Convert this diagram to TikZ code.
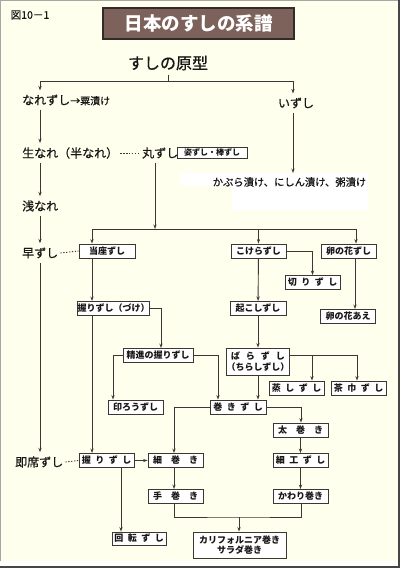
\documentclass[tikz,border=0pt]{standalone}
\usepackage{fontspec}
\setmainfont{Noto Sans CJK JP}
\newfontfamily\jpmed{Noto Sans CJK JP}[FakeBold=0.6]
\usetikzlibrary{arrows.meta}
\definecolor{cream}{RGB}{255,255,238}
\definecolor{lc}{RGB}{62,54,52}
\definecolor{txt}{RGB}{25,22,22}
\definecolor{titlefill}{RGB}{125,98,92}
\definecolor{frame}{RGB}{70,70,70}
\newcommand{\lsa}{\hspace{4.5pt}}
\newcommand{\lsb}{\hspace{9pt}}
\newcommand{\lsc}{\hspace{6pt}}
\tikzset{
  ln/.style={draw=lc, line width=0.9pt},
  arr/.style={ln, -{Stealth[length=4.5pt,width=3.2pt]}},
  dotl/.style={draw=lc, line width=0.9pt, dash pattern=on 1.3pt off 1.6pt},
  box/.style={draw=lc, line width=0.9pt, fill=white, inner sep=0pt,
    minimum width=55pt, minimum height=14pt, text=txt,
    font=\fontsize{9}{10.5}\selectfont\bfseries},
  lab/.style={inner xsep=2pt, inner ysep=4pt, text=txt,
    font=\jpmed\fontsize{12}{14}\selectfont},
}
\begin{document}
\begin{tikzpicture}[x=1pt,y=-1pt]
% background and frame
\useasboundingbox (0,0) rectangle (400,568);
\fill[white] (0,0) rectangle (400,568);
\fill[cream] (0,0) rectangle (397.5,561);
\draw[gray!70, line width=1pt] (0.5,561) -- (0.5,0.5) -- (397.5,0.5);
\fill[frame] (397.5,0) rectangle (400,568);
\fill[frame] (0,565.5) rectangle (400,568);
% white patch
\fill[white] (180,173) -- (368,173) -- (368,210) -- (232,210) -- (232,185) -- (180,185) -- cycle;

% labels
\node[text=txt, inner sep=0pt, font=\jpmed\fontsize{10.5}{12}\selectfont] (fig) at (30,15) {図10－1};
\node[draw=lc!80!black, line width=1.3pt, fill=titlefill, minimum width=191pt,
  minimum height=31pt, inner sep=0pt, text=white,
  font=\fontsize{18.5}{20}\selectfont\bfseries] (title) at (198.5,23.5) {日本のすしの系譜};
\node[lab, font=\jpmed\fontsize{16}{18}\selectfont] (gen) at (168,63) {すしの原型};
\coordinate (split) at (168,81);

\node[lab, anchor=west] (nare) at (20,100) {なれずし{\fontsize{10}{12}\selectfont →粟漬け}};
\node[lab] (izu) at (296,103) {いずし};
\node[lab, anchor=west] (nama) at (20,153) {生なれ（半なれ）};
\node[lab, anchor=west] (maru) at (140,153) {丸ずし};
\node[box, minimum width=70pt, minimum height=11pt, font=\fontsize{8}{9}\selectfont\bfseries] (sugata) at (212,152.5) {姿ずし・棒ずし};
\node[lab, anchor=west] (asa) at (20,206) {浅なれ};
\node[lab, anchor=west] (haya) at (20,253) {早ずし};
\node[lab, anchor=west] (soku) at (13,462) {即席ずし};
\node[lab, font=\jpmed\fontsize{10.3}{12}\selectfont] (kabura) at (289.5,182) {かぶら漬け、にしん漬け、粥漬け};

% boxes
\node[box, minimum width=56pt] (touza) at (107,251) {当座ずし};
\node[box] (kokera) at (258.5,251) {こけらずし};
\node[box] (unohana) at (348.5,251) {卵の花ずし};
\node[box] (kiri) at (312.5,282.5) {切\lsa り\lsa ず\lsa し};
\node[box] (unoae) at (348,316.5) {卵の花あえ};
\node[box, minimum width=56pt] (okoshi) at (258,308.5) {起こしずし};
\node[box, minimum width=56pt, minimum height=27pt, align=center] (bara) at (258,361.5) {ば\lsc ら\lsc ず\lsc し\\（ちらしずし）};
\node[box] (mushi) at (296.5,388) {蒸\lsa し\lsa ず\lsa し};
\node[box] (chakin) at (358.5,388) {茶\lsa 巾\lsa ず\lsa し};
\node[box, minimum width=56pt] (maki) at (238,407) {巻\lsa き\lsa ず\lsa し};
\node[box, minimum width=71pt] (nzuke) at (113.5,308.5) {握りずし（づけ）};
\node[box, minimum width=70pt] (shojin) at (158,355.5) {精進の握りずし};
\node[box] (inro) at (135.5,407) {印ろうずし};
\node[box] (futo) at (300.5,430) {太\lsb 巻\lsb き};
\node[box] (saiku) at (300.5,460.5) {細\lsa 工\lsa ず\lsa し};
\node[box] (kawari) at (300.5,496.5) {かわり巻き};
\node[box] (nigiri) at (106.5,460.5) {握\lsa り\lsa ず\lsa し};
\node[box] (hoso) at (175.5,460.5) {細\lsb 巻\lsb き};
\node[box] (temaki) at (175.5,496.5) {手\lsb 巻\lsb き};
\node[box, minimum width=54pt, minimum height=13pt] (kaiten) at (139,538.5) {回\lsa 転\lsa ず\lsa し};
\node[box, minimum width=93pt, minimum height=26pt, align=center] (calif) at (239.5,545) {カリフォルニア巻き\\サラダ巻き};

% helper coordinates
\coordinate (sp) at (40,0);
\coordinate (x92) at (92,0);
\coordinate (x113) at (113,0);
\coordinate (x121) at (121,0);
\coordinate (x155) at (155,0);
\coordinate (x161) at (161,0);
\coordinate (x174) at (174,0);
\coordinate (x218) at (218,0);
\coordinate (x293) at (293,0);
\coordinate (x301) at (301,0);
\coordinate (x312) at (312,0);
\coordinate (x355) at (355,0);
\coordinate (x357) at (357,0);
\coordinate (x356) at (356,0);
\coordinate (by) at (0,355);
\coordinate (j1) at (155,229);
\coordinate (jb) at (239,517);

% connectors
\draw[ln] (gen) -- (split);
\draw[arr] (split) -| (nare.north -| sp);
\draw[arr] (split) -| (izu.north -| x293);
\draw[arr] (nare.south -| sp) -- (nama.north -| sp);
\draw[arr] (nama.south -| sp) -- (asa.north -| sp);
\draw[arr] (asa.south -| sp) -- (haya.north -| sp);
\draw[arr] (haya.south -| sp) -- (soku.north -| sp);
\draw[arr] (izu.south -| x293) -- (kabura.north -| x293);
\draw[dotl] (nama.east) -- (maru.west);
\draw[dotl] (haya.east) -- (touza.west);
\draw[dotl] (soku.east) -- (nigiri.west);

\draw[arr] (maru.south -| x155) -- (j1);
\draw[arr] (j1) -| (touza.north -| x92);
\draw[arr] (j1) -| (unohana.north -| x356);
\draw[arr] (kokera.north |- j1) -- (kokera.north);
\draw[arr] (kokera.east) -| (kiri.north);
\draw[arr] (unohana.south -| x355) -- (unoae.north -| x355);
\draw[arr] (kokera) -- (okoshi);
\draw[arr] (okoshi) -- (bara);
\draw[arr] (bara.east |- by) -| (mushi.north -| x312);
\draw[arr] (bara.east |- by) -| (chakin.north -| x357);
\draw[arr] (bara.south) -- (bara.south |- maki.north);

\draw[arr] (touza.south -| x92) -- (nzuke.north -| x92);
\draw[arr] (nzuke.east) -| (shojin.north -| x161);
\draw[arr] (shojin.west) -| (inro.north -| x113);
\draw[arr] (shojin.east) -| (maki.north -| x218);
\draw[arr] (maki.west) -| (hoso.north -| x174);
\draw[arr] (maki.east) -| (futo.north -| x301);
\draw[arr] (futo) -- (saiku);
\draw[arr] (saiku) -- (kawari);
\draw[arr] (nzuke.south -| x92) -- (nigiri.north -| x92);
\draw[arr] (nigiri) -- (hoso);
\draw[arr] (nigiri.south -| x121) -- (kaiten.north -| x121);
\draw[arr] (hoso.south -| x174) -- (temaki.north -| x174);
\draw[ln] (temaki.south -| x174) |- (jb) -| (kawari.south -| x301);
\draw[arr] (jb) -- (jb |- calif.north);
\end{tikzpicture}
\end{document}
